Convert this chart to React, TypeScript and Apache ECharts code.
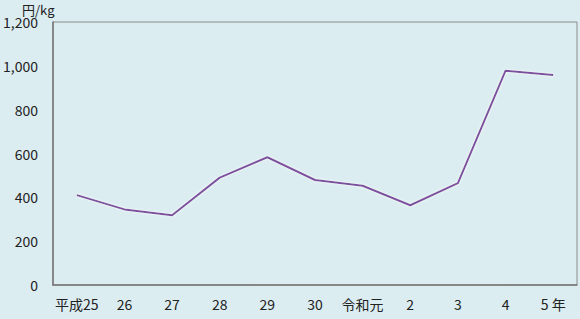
import React, { useEffect, useRef } from "react";
import * as echarts from "echarts";

const categories = ["平成25", "26", "27", "28", "29", "30", "令和元", "2", "3", "4", "5 年"];
const prices = [410, 345, 318, 490, 583, 479, 453, 364, 465, 978, 958];
const yTicks = [0, 200, 400, 600, 800, 1000, 1200];
const unitLabel = "円/kg";

export default function App() {
  const ref = useRef<HTMLDivElement>(null);
  useEffect(() => {
    if (!ref.current) return;
    const chart = echarts.init(ref.current, undefined, { renderer: "svg" });
    const font = "'Noto Sans CJK JP', 'Noto Sans', sans-serif";
    chart.setOption({
      animation: false,
      backgroundColor: "#dcedf1",
      grid: {
        left: 51,
        top: 22,
        right: 3,
        bottom: 34,
        show: true,
        borderColor: "#8a8a8a",
        borderWidth: 1,
        backgroundColor: "transparent",
      },
      graphic: [
        {
          type: "text",
          left: 22,
          top: 3,
          style: { text: unitLabel, fontSize: 13, fill: "#222", fontFamily: font },
        },
      ],
      xAxis: {
        type: "category",
        data: categories,
        boundaryGap: true,
        axisLine: { show: true, lineStyle: { color: "#777", width: 1.5 } },
        axisTick: { show: false },
        axisLabel: { color: "#222", fontSize: 14, fontFamily: font, margin: 12, interval: 0 },
        splitLine: { show: false },
      },
      yAxis: {
        type: "value",
        min: 0,
        max: yTicks[yTicks.length - 1],
        interval: 200,
        axisLine: { show: true, lineStyle: { color: "#777", width: 1.5 } },
        axisTick: { show: false },
        splitLine: { show: false },
        axisLabel: {
          color: "#222",
          fontSize: 14,
          fontFamily: font,
          margin: 15,
          formatter: (v: number) => v.toLocaleString("en-US"),
        },
      },
      series: [
        {
          type: "line",
          data: prices,
          symbol: "none",
          lineStyle: {
            color: "#7e4f9e",
            width: 2,
            shadowColor: "rgba(255,255,255,0.9)",
            shadowBlur: 2,
          },
        },
      ],
    });
    return () => chart.dispose();
  }, []);
  return <div ref={ref} style={{ width: 580, height: 319, position: "absolute", left: 0, top: 0 }} />;
}
